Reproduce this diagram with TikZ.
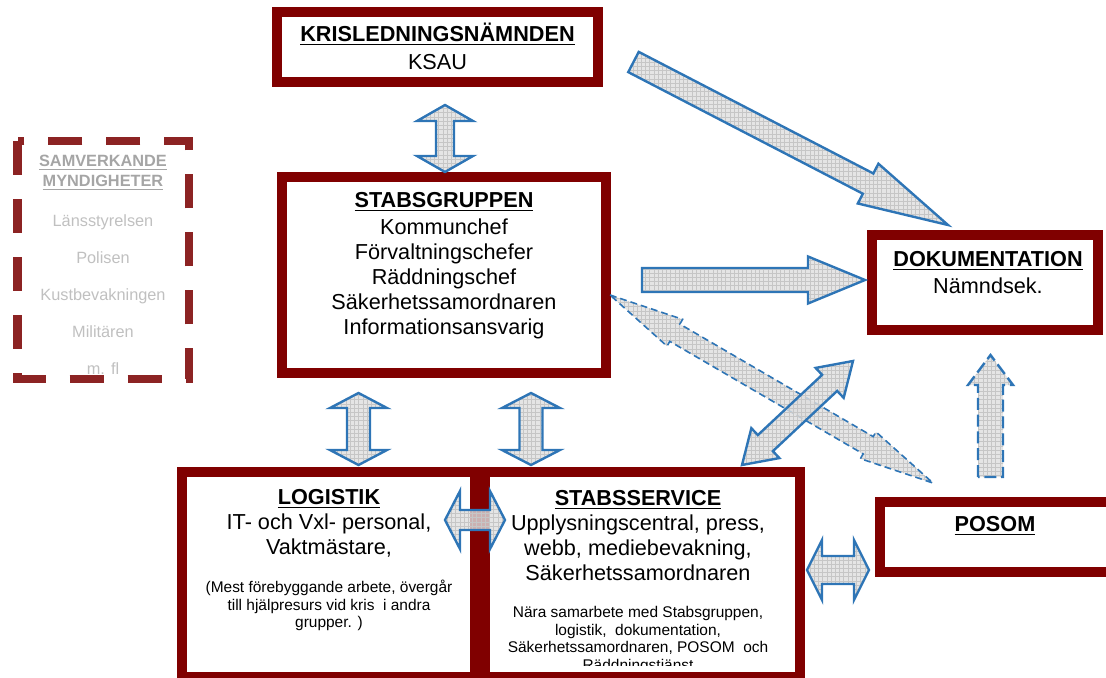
\documentclass[tikz,border=0pt]{standalone}
\usepackage{fontspec}
\setmainfont{Liberation Sans}
\usetikzlibrary{calc,patterns}
\definecolor{morkrod}{RGB}{128,0,0}
\definecolor{streckrod}{RGB}{140,35,35}
\definecolor{pilbla}{RGB}{46,117,182}
\definecolor{pilgra}{RGB}{222,222,222}
\definecolor{rutnat}{RGB}{198,198,198}
\definecolor{myngra}{RGB}{165,165,165}
\definecolor{namngra}{RGB}{192,192,192}
\newcommand{\px}{0.025cm}
\newcommand{\stor}{\fontsize{15.4}{18}\selectfont}
\newcommand{\liten}{\fontsize{11}{12.6}\selectfont}
\newcommand{\mellan}{\fontsize{11.6}{14}\selectfont}
\newcommand{\understr}[1]{\setbox0\hbox{#1}\rlap{\rule[-3pt]{\wd0}{1.2pt}}\box0}
% Blockpilar: fran, till, halv skaftbredd, halv huvudbredd, huvudlangd (i px).
\newcommand{\enkelpil}[6][]{%
  \coordinate (hb) at ($(#3)!#6*\px!(#2)$);
  \draw[pil,#1] ($(#2)!#4*\px!90:(#3)$) -- ($(hb)!#4*\px!90:(#3)$)
    -- ($(hb)!#5*\px!90:(#3)$) -- (#3) -- ($(hb)!#5*\px!-90:(#3)$)
    -- ($(hb)!#4*\px!-90:(#3)$) -- ($(#2)!#4*\px!-90:(#3)$) -- cycle;}
\newcommand{\dubbelpil}[6][]{%
  \coordinate (pA) at ($(#2)!#6*\px!(#3)$);
  \coordinate (pB) at ($(#3)!#6*\px!(#2)$);
  \draw[pil,#1] (#2) -- ($(pA)!#5*\px!90:(#3)$) -- ($(pA)!#4*\px!90:(#3)$)
    -- ($(pB)!#4*\px!-90:(#2)$) -- ($(pB)!#5*\px!-90:(#2)$) -- (#3)
    -- ($(pB)!#5*\px!90:(#2)$) -- ($(pB)!#4*\px!90:(#2)$)
    -- ($(pA)!#4*\px!-90:(#3)$) -- ($(pA)!#5*\px!-90:(#3)$) -- cycle;}

\begin{document}
\begin{tikzpicture}[x=\px, y=-\px,
  ruta/.style={draw=morkrod, line width=0.24cm},
  streckruta/.style={draw=streckrod, line width=0.2cm, dash pattern=on 0.85cm off 0.6cm},
  pil/.style={draw=pilbla, line width=0.06cm, line join=miter,
    preaction={fill=pilgra, fill opacity=0.8}, pattern=grid, pattern color=rutnat},
  pilstreck/.style={line width=0.04cm, dash pattern=on 0.17cm off 0.1cm},
  radtext/.style={anchor=base, inner sep=0pt, font=\stor},
  smatext/.style={anchor=base, inner sep=0pt, font=\liten},
  myntext/.style={anchor=base, inner sep=0pt, font=\mellan}]
  \useasboundingbox (0,0) rectangle (1106,678);
  \clip (0,0) rectangle (1106,678);
  % Rutorna.
  \draw[ruta] (277,12) rectangle (598,82);
  \draw[ruta] (282,177) rectangle (606,373);
  \draw[ruta] (872,235) rectangle (1098,330);
  \draw[ruta] (880,502) rectangle (1112,572);
  \draw[ruta] (485,472) rectangle (800,677);
  \draw[ruta] (182,472) rectangle (475,677);
  % Krisledningsnamnden.
  \node[radtext] (krisrubrik) at (437.5,41) {\understr{\textbf{KRISLEDNINGSNÄMNDEN}}};
  \node[radtext] (ksau) at (437.5,69) {KSAU};
  % Stabsgruppen.
  \node[radtext] (stabrubrik) at (444,207) {\understr{\textbf{STABSGRUPPEN}}};
  \foreach \rad [count=\i from 0] in {Kommunchef, Förvaltningschefer, Räddningschef,
      Säkerhetssamordnaren, Informationsansvarig}
    \node[radtext] (stab\i) at (444,234+25*\i) {\rad};
  % Dokumentation och POSOM.
  \node[radtext] (dokrubrik) at (988,266) {\understr{\textbf{DOKUMENTATION}}};
  \node[radtext] (namndsek) at (988,293) {Nämndsek.};
  \node[radtext] (posom) at (995,531) {\understr{\textbf{POSOM}}};
  % Logistik.
  \node[radtext] (logrubrik) at (329,504) {\understr{\textbf{LOGISTIK}}};
  \foreach \rad [count=\i from 0] in {{IT- och Vxl- personal,}, {Vaktmästare,}}
    \node[radtext] (log\i) at (329,529+25.5*\i) {\rad};
  \foreach \rad [count=\i from 0] in {{(Mest förebyggande arbete, övergår},
      {till hjälpresurs vid kris~ i andra}, {grupper. )}}
    \node[smatext] (logsma\i) at (329,592.5+17.7*\i) {\rad};
  % Stabsservice, sista raden skuren av rutan.
  \node[radtext] (servrubrik) at (638,505) {\understr{\textbf{STABSSERVICE}}};
  \foreach \rad [count=\i from 0] in {{Upplysningscentral, press,},
      {webb, mediebevakning,}, {Säkerhetssamordnaren}}
    \node[radtext] (serv\i) at (638,530+25*\i) {\rad};
  \begin{scope}
    \clip (490,590) rectangle (795,665);
    \foreach \rad [count=\i from 0] in {{Nära samarbete med Stabsgruppen,},
        {logistik,~ dokumentation,}, {Säkerhetssamordnaren, POSOM~ och},
        {Räddningstjänst}}
      \node[smatext] (servsma\i) at (638,617.5+17.5*\i) {\rad};
  \end{scope}
  % Samverkande myndigheter.
  \node[myntext, text=myngra] (samvrubrik1) at (103,166) {\understr{\textbf{SAMVERKANDE}}};
  \node[myntext, text=myngra] (samvrubrik2) at (103,186) {\understr{\textbf{MYNDIGHETER}}};
  \begin{scope}
    \clip (20,140) rectangle (187,373);
    \foreach \namn [count=\i from 0] in {Länsstyrelsen, Polisen, Kustbevakningen,
        Militären, m. fl}
      \node[myntext, text=namngra] (myn\i) at (103,226+37*\i) {\namn};
  \end{scope}
  \draw[streckruta] (17.5,141) rectangle (189,379);
  % Pilarna.
  \coordinate (a1) at (445,105);   \coordinate (a2) at (445,172);
  \coordinate (b1) at (633.5,62);  \coordinate (b2) at (948,225);
  \coordinate (c1) at (642,280);   \coordinate (c2) at (865,280);
  \coordinate (d1) at (610,295);   \coordinate (d2) at (933,483);
  \coordinate (e1) at (742,465);   \coordinate (e2) at (853,361);
  \coordinate (f1) at (990.5,477); \coordinate (f2) at (990.5,355);
  \coordinate (g1) at (358.5,393); \coordinate (g2) at (358.5,465);
  \coordinate (h1) at (531,393);   \coordinate (h2) at (531,465);
  \coordinate (i1) at (445,520);   \coordinate (i2) at (505,520);
  \coordinate (j1) at (807,570);   \coordinate (j2) at (869,570);
  \dubbelpil{a1}{a2}{9}{28}{16}
  \enkelpil{b1}{b2}{11.4}{22.4}{90}
  \enkelpil{c1}{c2}{12}{23.5}{57}
  \dubbelpil[pilstreck]{d1}{d2}{10}{15.5}{75}
  \dubbelpil{e1}{e2}{11}{20.5}{32}
  \enkelpil[line width=0.06cm, dash pattern=on 0.3cm off 0.12cm]{f1}{f2}{12.5}{22.5}{30}
  \dubbelpil{g1}{g2}{11.5}{28.5}{15}
  \dubbelpil{h1}{h2}{11.5}{29}{15}
  \dubbelpil{i1}{i2}{10}{29}{15}
  \dubbelpil{j1}{j2}{14}{30}{15}
\end{tikzpicture}
\end{document}
